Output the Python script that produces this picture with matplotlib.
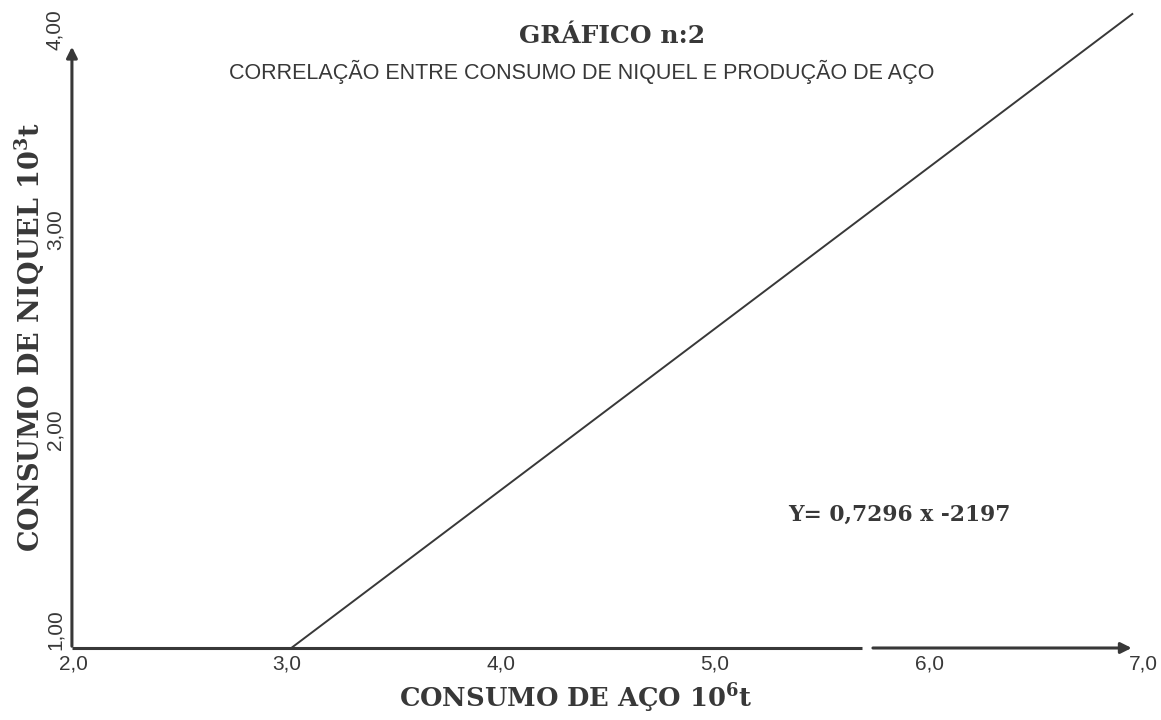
import matplotlib
matplotlib.use('agg')
import matplotlib.pyplot as plt

# values
x_ticks = [2.0, 3.0, 4.0, 5.0, 6.0, 7.0]
x_tick_labels = ['2,0', '3,0', '4,0', '5,0', '6,0', '7,0']
y_ticks = [1.0, 2.0, 3.0, 4.0]
y_tick_labels = ['1,00', '2,00', '3,00', '4,00']

# regression line end points (steel, nickel)
line_x = [3.02, 6.95]
line_y = [0.95, 4.12]

title = 'GRÁFICO n:2'
subtitle = 'CORRELAÇÃO ENTRE CONSUMO DE NIQUEL E PRODUÇÃO DE AÇO'
equation = 'Y= 0,7296 x -2197'
x_label = r'CONSUMO DE AÇO 10$^{\mathbf{6}}$t'
y_label = r'CONSUMO DE NIQUEL 10$^{\mathbf{3}}$t'

ink = '#383838'
W, H = 1161, 720

plt.rcParams['mathtext.fontset'] = 'dejavuserif'


def main():
	fig = plt.figure(figsize=(W / 100, H / 100), dpi=100)
	ax = fig.add_axes([0, 0, 1, 1])
	ax.axis('off')

	# pixel <-> data mapping taken from the tick positions in the picture
	x0_px, x_scale = 73, 214.0
	y1_px, y_scale = 638, 200.0
	ax.set_xlim(2 - x0_px / x_scale, 2 + (W - x0_px) / x_scale)
	ax.set_ylim(1 + (y1_px - H) / y_scale, 1 + y1_px / y_scale)

	x_origin = 1.995
	y_origin = 0.95

	# axes drawn by hand, with arrow heads and the small gap on the x axis
	ax.plot([x_origin, 5.685], [y_origin, y_origin], color=ink, lw=2.2, solid_capstyle='butt')
	ax.annotate('', xy=(6.96, y_origin), xytext=(5.725, y_origin),
		arrowprops=dict(arrowstyle='-|>', color=ink, lw=2.2, mutation_scale=16))
	ax.annotate('', xy=(x_origin, 3.97), xytext=(x_origin, y_origin - 0.005),
		arrowprops=dict(arrowstyle='-|>', color=ink, lw=2.2, mutation_scale=16))

	ax.plot(line_x, line_y, color=ink, lw=1.4)

	sans = ['Liberation Sans', 'DejaVu Sans']
	serif = ['DejaVu Serif']

	for v, lbl in zip(x_ticks, x_tick_labels):
		ax.annotate(lbl, (v, y_origin), xytext=(0, -6), textcoords='offset pixels',
			ha='center', va='top', fontsize=15, color=ink, family=sans)
	for v, lbl in zip(y_ticks, y_tick_labels):
		ax.annotate(lbl, (x_origin, v), xytext=(-17, 8), textcoords='offset pixels',
			ha='center', va='center', rotation=90, fontsize=15, color=ink, family=sans)

	fig.text(612 / W, 1 - 36 / H, title, ha='center', va='center',
		fontsize=18, fontweight='bold', color=ink, family=serif)
	fig.text(582 / W, 1 - 72 / H, subtitle, ha='center', va='center',
		fontsize=15.5, color=ink, family=sans)
	fig.text(899 / W, 1 - 515 / H, equation, ha='center', va='center',
		fontsize=15.7, fontweight='bold', color=ink, family=serif)
	fig.text(576 / W, 1 - 698 / H, x_label, ha='center', va='center',
		fontsize=18.5, fontweight='bold', color=ink, family=serif)
	fig.text(30 / W, 1 - 337 / H, y_label, ha='center', va='center', rotation=90,
		fontsize=19.5, fontweight='bold', color=ink, family=serif)

	fig.savefig('out.png', dpi=100, facecolor='white')


if __name__ == "__main__":
	main()
